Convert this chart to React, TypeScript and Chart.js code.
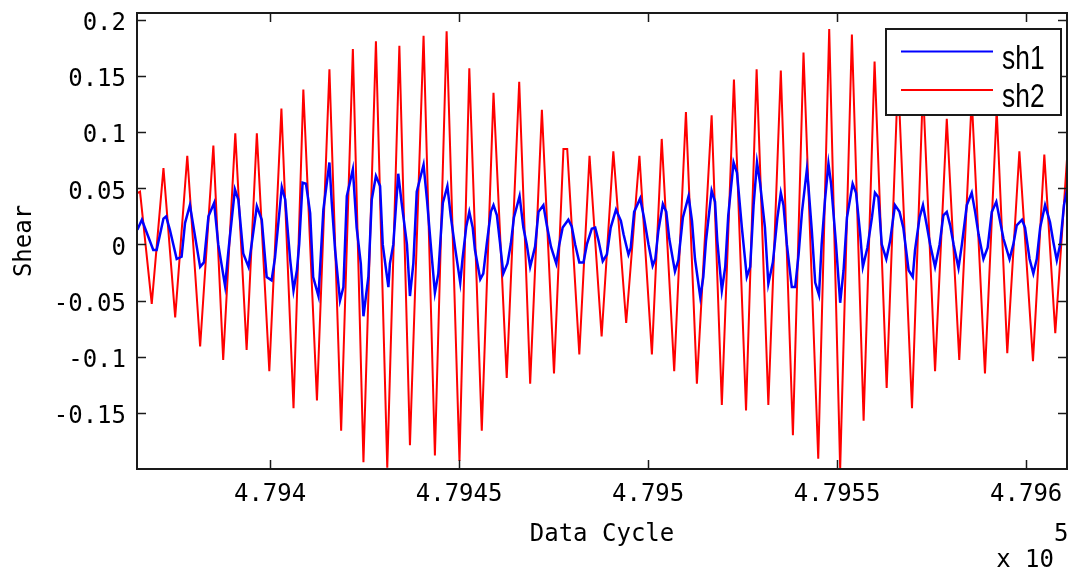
import React, { useEffect, useRef } from 'react';
import { Chart, registerables } from 'chart.js';

Chart.register(...registerables);

// ---- data ----
const sh1X = [
  479364.9, 479366.1, 479369.1, 479370.0, 479371.8, 479372.5, 479373.5, 479375.3, 479376.6, 479377.5,
  479378.8, 479380.6, 479381.5, 479382.5, 479383.7, 479385.2, 479386.3, 479388.1, 479389.0, 479390.7,
  479391.6, 479392.9, 479394.3, 479396.5, 479397.8, 479399.1, 479400.4, 479401.3, 479402.5, 479403.1,
  479404.0, 479404.8, 479405.3, 479406.2, 479407.1, 479407.7, 479408.6, 479409.5, 479410.6, 479411.4,
  479412.8, 479413.2, 479414.1, 479415.7, 479416.3, 479417.2, 479418.5, 479419.4, 479420.3, 479421.9,
  479422.9, 479424.0, 479424.7, 479426.0, 479426.9, 479428.0, 479429.1, 479429.8, 479430.7, 479431.3,
  479431.7, 479432.6, 479433.9, 479434.8, 479436.2, 479437.0, 479437.9, 479438.8, 479440.6, 479441.5,
  479442.8, 479443.6, 479444.5, 479445.7, 479446.9, 479447.8, 479448.9, 479450.3, 479450.9, 479451.9,
  479452.7, 479453.6, 479454.2, 479455.6, 479456.4, 479457.3, 479458.4, 479459.1, 479460.0, 479460.8,
  479461.7, 479462.8, 479463.7, 479464.5, 479466.0, 479467.0, 479467.9, 479468.8, 479470.1, 479471.0,
  479472.3, 479473.2, 479474.3, 479475.7, 479476.5, 479477.4, 479478.9, 479479.8, 479480.7, 479481.8,
  479482.9, 479483.8, 479485.1, 479486.0, 479486.9, 479488.0, 479489.1, 479490.1, 479491.5, 479492.8,
  479493.5, 479494.8, 479495.4, 479496.3, 479497.9, 479498.9, 479500.1, 479501.2, 479501.9, 479502.7,
  479503.9, 479504.8, 479505.6, 479507.1, 479508.0, 479509.2, 479510.7, 479511.6, 479512.4, 479513.8,
  479514.6, 479515.3, 479516.8, 479517.7, 479518.3, 479519.5, 479520.4, 479521.2, 479522.6, 479523.5,
  479524.8, 479526.1, 479527.0, 479527.9, 479528.8, 479529.6, 479530.9, 479531.8, 479533.0, 479534.2,
  479535.1, 479535.8, 479536.7, 479538.0, 479538.9, 479539.8, 479540.7, 479542.0, 479542.4, 479543.3,
  479544.2, 479545.2, 479545.9, 479546.8, 479547.7, 479548.4, 479549.7, 479550.8, 479551.7, 479552.6,
  479554.1, 479555.0, 479556.1, 479556.8, 479558.0, 479559.2, 479560.0, 479560.9, 479561.8, 479563.0,
  479564.0, 479565.3, 479566.5, 479567.5, 479568.9, 479570.0, 479570.6, 479571.8, 479572.7, 479573.7,
  479574.6, 479575.9, 479577.1, 479578.1, 479579.0, 479579.9, 479580.8, 479582.1, 479583.0, 479584.3,
  479585.6, 479586.5, 479587.4, 479588.7, 479589.8, 479590.9, 479592.1, 479592.9, 479594.0, 479595.6,
  479596.6, 479597.5, 479598.9, 479599.7, 479600.9, 479601.9, 479602.8, 479603.7, 479605.0, 479606.3,
  479607.2, 479608.1, 479609.0, 479610.0, 479610.8,
];
const sh1Y = [
  0.013, 0.022, -0.005, -0.005, 0.023, 0.025, 0.013, -0.013, -0.011, 0.019,
  0.035, -0.002, -0.020, -0.016, 0.025, 0.037, 0.000, -0.037, -0.005, 0.049,
  0.040, -0.008, -0.020, 0.034, 0.022, -0.029, -0.032, -0.012, 0.030, 0.051,
  0.040, 0.007, -0.013, -0.041, -0.023, 0.000, 0.055, 0.054, 0.028, -0.029,
  -0.046, -0.023, 0.031, 0.073, 0.038, -0.005, -0.050, -0.038, 0.043, 0.067,
  0.015, -0.017, -0.064, -0.029, 0.040, 0.061, 0.052, 0.000, -0.023, -0.038,
  -0.017, 0.000, 0.063, 0.037, 0.000, -0.046, -0.017, 0.047, 0.071, 0.040,
  -0.012, -0.043, -0.026, 0.037, 0.052, 0.025, -0.002, -0.034, -0.013, 0.016,
  0.029, 0.015, -0.005, -0.031, -0.026, 0.000, 0.029, 0.035, 0.026, 0.002,
  -0.026, -0.017, 0.001, 0.024, 0.043, 0.015, 0.000, -0.020, -0.002, 0.029,
  0.035, 0.017, -0.002, -0.017, 0.000, 0.015, 0.022, 0.016, 0.000, -0.016,
  -0.016, 0.000, 0.014, 0.015, 0.003, -0.015, -0.009, 0.015, 0.031, 0.021,
  0.009, -0.009, -0.003, 0.029, 0.041, 0.024, 0.000, -0.019, -0.013, 0.012,
  0.036, 0.029, 0.005, -0.024, -0.014, 0.024, 0.043, 0.021, -0.013, -0.047,
  -0.029, 0.003, 0.048, 0.038, 0.003, -0.041, -0.020, 0.026, 0.073, 0.064,
  0.015, -0.029, -0.020, 0.035, 0.073, 0.055, 0.015, -0.035, -0.016, 0.024,
  0.046, 0.035, 0.000, -0.038, -0.038, -0.009, 0.029, 0.067, 0.052, 0.012,
  -0.034, -0.045, 0.000, 0.040, 0.072, 0.054, 0.000, -0.052, -0.023, 0.024,
  0.054, 0.046, 0.009, -0.020, -0.003, 0.024, 0.046, 0.042, 0.000, -0.013,
  0.003, 0.035, 0.029, 0.015, -0.023, -0.029, -0.005, 0.024, 0.035, 0.017,
  0.000, -0.020, 0.000, 0.026, 0.029, 0.017, 0.000, -0.021, 0.000, 0.035,
  0.046, 0.029, 0.009, -0.013, -0.003, 0.029, 0.038, 0.024, 0.005, -0.013,
  0.000, 0.017, 0.022, 0.015, -0.013, -0.026, -0.013, 0.015, 0.035, 0.020,
  0.002, -0.014, 0.000, 0.035, 0.049,
];

const sh2X = [
  479364.5, 479365.6, 479368.7, 479371.8, 479374.9, 479378.1, 479381.5, 479385.0, 479387.6, 479390.8,
  479393.8, 479396.5, 479399.8, 479403.0, 479406.2, 479408.8, 479412.4, 479415.7, 479418.8, 479421.9,
  479424.7, 479428.0, 479431.0, 479434.2, 479437.0, 479440.6, 479443.6, 479446.7, 479450.1, 479452.7,
  479456.0, 479459.1, 479462.6, 479465.9, 479468.8, 479471.9, 479475.1, 479477.6, 479478.6, 479481.8,
  479484.5, 479487.7, 479490.8, 479494.2, 479497.7, 479501.0, 479503.6, 479506.9, 479510.0, 479512.9,
  479516.8, 479519.5, 479522.7, 479525.9, 479528.7, 479531.8, 479535.1, 479538.3, 479541.1, 479545.0,
  479547.9, 479550.8, 479553.9, 479557.0, 479559.9, 479563.1, 479566.1, 479569.8, 479572.7, 479575.9,
  479579.0, 479582.3, 479585.6, 479589.1, 479592.2, 479595.0, 479598.2, 479601.8, 479604.8, 479607.7,
  479610.8,
];
const sh2Y = [
  0.045, 0.047, -0.053, 0.068, -0.065, 0.079, -0.091, 0.088, -0.103, 0.099,
  -0.094, 0.099, -0.113, 0.121, -0.146, 0.138, -0.139, 0.156, -0.166, 0.174,
  -0.194, 0.181, -0.199, 0.177, -0.179, 0.186, -0.188, 0.190, -0.193, 0.157,
  -0.166, 0.135, -0.119, 0.145, -0.124, 0.120, -0.115, 0.085, 0.085, -0.098,
  0.079, -0.082, 0.083, -0.070, 0.079, -0.098, 0.094, -0.113, 0.118, -0.124,
  0.115, -0.143, 0.147, -0.148, 0.156, -0.143, 0.155, -0.170, 0.171, -0.191,
  0.192, -0.2, 0.187, -0.157, 0.163, -0.128, 0.150, -0.146, 0.140, -0.113,
  0.112, -0.103, 0.130, -0.115, 0.120, -0.097, 0.083, -0.104, 0.080, -0.079,
  0.076,
];

const seriesNames = ['sh1', 'sh2'];
const seriesColors = ['#0000ff', '#ff0000'];
const xTickValues = [479400, 479450, 479500, 479550, 479600];
const xTickLabels = ['4.794', '4.7945', '4.795', '4.7955', '4.796'];
const yTickValues = [-0.15, -0.1, -0.05, 0, 0.05, 0.1, 0.15, 0.2];
const yTickLabels = ['-0.15', '-0.1', '-0.05', '0', '0.05', '0.1', '0.15', '0.2'];
const xTitle = 'Data Cycle';
const yTitle = 'Shear';
const xMultiplier = 'x 10';
const xExponent = '5';
const xRange = [479364.8, 479610.8];
const yRange = [-0.2001, 0.2062];

const MONO = "'DejaVu Sans Mono', 'Liberation Mono', monospace";
const SANS = "'Liberation Sans', Arial, sans-serif";

function labelFor(values: number[], labels: string[], v: number): string {
  for (let i = 0; i < values.length; i++) {
    if (Math.abs(values[i] - v) < 1e-6) return labels[i];
  }
  return '';
}

const framePlugin = {
  id: 'matlabFrame',
  afterDatasetsDraw(chart: any) {
    const { ctx, chartArea: a, scales } = chart;
    ctx.save();
    ctx.strokeStyle = '#1a1a1a';
    ctx.lineWidth = 1.5;
    ctx.beginPath();
    const tl = 9;
    xTickValues.forEach((v) => {
      const px = Math.round(scales.x.getPixelForValue(v)) + 0.5;
      ctx.moveTo(px, a.bottom);
      ctx.lineTo(px, a.bottom - tl);
      ctx.moveTo(px, a.top);
      ctx.lineTo(px, a.top + tl);
    });
    yTickValues.forEach((v) => {
      const py = Math.round(scales.y.getPixelForValue(v)) + 0.5;
      ctx.moveTo(a.left, py);
      ctx.lineTo(a.left + tl, py);
      ctx.moveTo(a.right, py);
      ctx.lineTo(a.right - tl, py);
    });
    ctx.stroke();
    ctx.lineWidth = 2;
    ctx.strokeRect(a.left, a.top, a.right - a.left, a.bottom - a.top);
    ctx.restore();
  },
  afterDraw(chart: any) {
    const { ctx } = chart;
    ctx.save();
    // exponent label
    ctx.fillStyle = '#000';
    ctx.font = `24px ${MONO}`;
    ctx.textBaseline = 'alphabetic';
    ctx.textAlign = 'right';
    ctx.fillText(xMultiplier, 1054, 567);
    ctx.textAlign = 'left';
    ctx.fillText(xExponent, 1054, 541);

    // legend
    const bx = 886, by = 29, bw = 175, bh = 86;
    ctx.fillStyle = '#ffffff';
    ctx.fillRect(bx, by, bw, bh);
    ctx.strokeStyle = '#1a1a1a';
    ctx.lineWidth = 2;
    ctx.strokeRect(bx, by, bw, bh);
    const rows = [51.5, 90];
    seriesNames.forEach((name, i) => {
      ctx.strokeStyle = seriesColors[i];
      ctx.lineWidth = 2;
      ctx.beginPath();
      ctx.moveTo(901, rows[i]);
      ctx.lineTo(993, rows[i]);
      ctx.stroke();
      ctx.save();
      ctx.translate(1002, rows[i] + 17);
      ctx.scale(0.8, 1);
      ctx.font = `33px ${SANS}`;
      ctx.textAlign = 'left';
      ctx.textBaseline = 'alphabetic';
      ctx.fillStyle = '#000';
      ctx.fillText(name, 0, 0);
      ctx.restore();
    });
    ctx.restore();
  },
};

export default function App() {
  const canvasRef = useRef<HTMLCanvasElement | null>(null);

  useEffect(() => {
    const canvas = canvasRef.current;
    if (!canvas) return;
    const sh1 = sh1X.map((x, i) => ({ x, y: sh1Y[i] }));
    const sh2 = sh2X.map((x, i) => ({ x, y: sh2Y[i] }));
    const chart = new Chart(canvas, {
      type: 'line',
      data: {
        datasets: [
          {
            label: seriesNames[0],
            data: sh1,
            borderColor: seriesColors[0],
            backgroundColor: seriesColors[0],
            borderWidth: 2.5,
            pointRadius: 0,
            tension: 0,
            fill: false,
          },
          {
            label: seriesNames[1],
            data: sh2,
            borderColor: seriesColors[1],
            backgroundColor: seriesColors[1],
            borderWidth: 2,
            pointRadius: 0,
            tension: 0,
            fill: false,
          },
        ],
      },
      options: {
        animation: false,
        responsive: false,
        maintainAspectRatio: false,
        layout: { padding: { top: 13, right: 3, left: 0, bottom: 0 } },
        plugins: {
          legend: { display: false },
          tooltip: { enabled: false },
        },
        scales: {
          x: {
            type: 'linear',
            min: xRange[0],
            max: xRange[1],
            afterBuildTicks: (s: any) => {
              s.ticks = xTickValues.map((v) => ({ value: v }));
            },
            afterFit: (s: any) => {
              s.height = 105;
              s.paddingLeft = 0;
              s.paddingRight = 0;
            },
            grid: { display: false, drawTicks: false },
            border: { display: false },
            ticks: {
              autoSkip: false,
              maxRotation: 0,
              minRotation: 0,
              padding: 11,
              color: '#000',
              font: { family: MONO, size: 24 },
              callback: (v: any) => labelFor(xTickValues, xTickLabels, Number(v)),
            },
            title: {
              display: true,
              text: xTitle,
              color: '#000',
              font: { family: MONO, size: 24 },
              padding: { top: 0, bottom: 25 },
            },
          },
          y: {
            type: 'linear',
            min: yRange[0],
            max: yRange[1],
            afterBuildTicks: (s: any) => {
              s.ticks = yTickValues.map((v) => ({ value: v }));
            },
            afterFit: (s: any) => {
              s.width = 137;
              s.paddingTop = 0;
              s.paddingBottom = 0;
            },
            grid: { display: false, drawTicks: false },
            border: { display: false },
            ticks: {
              autoSkip: false,
              padding: 11,
              labelOffset: 4,
              color: '#000',
              font: { family: MONO, size: 24 },
              callback: (v: any) => labelFor(yTickValues, yTickLabels, Number(v)),
            },
            title: {
              display: true,
              text: yTitle,
              color: '#000',
              font: { family: MONO, size: 24 },
              padding: { top: 10.5, bottom: 0 },
            },
          },
        },
      },
      plugins: [framePlugin],
    });
    return () => chart.destroy();
  }, []);

  return (
    <div style={{ position: 'fixed', left: 0, top: 0, width: 1070, height: 574, background: '#fff' }}>
      <canvas ref={canvasRef} width={1070} height={574} style={{ width: 1070, height: 574, display: 'block' }} />
    </div>
  );
}
